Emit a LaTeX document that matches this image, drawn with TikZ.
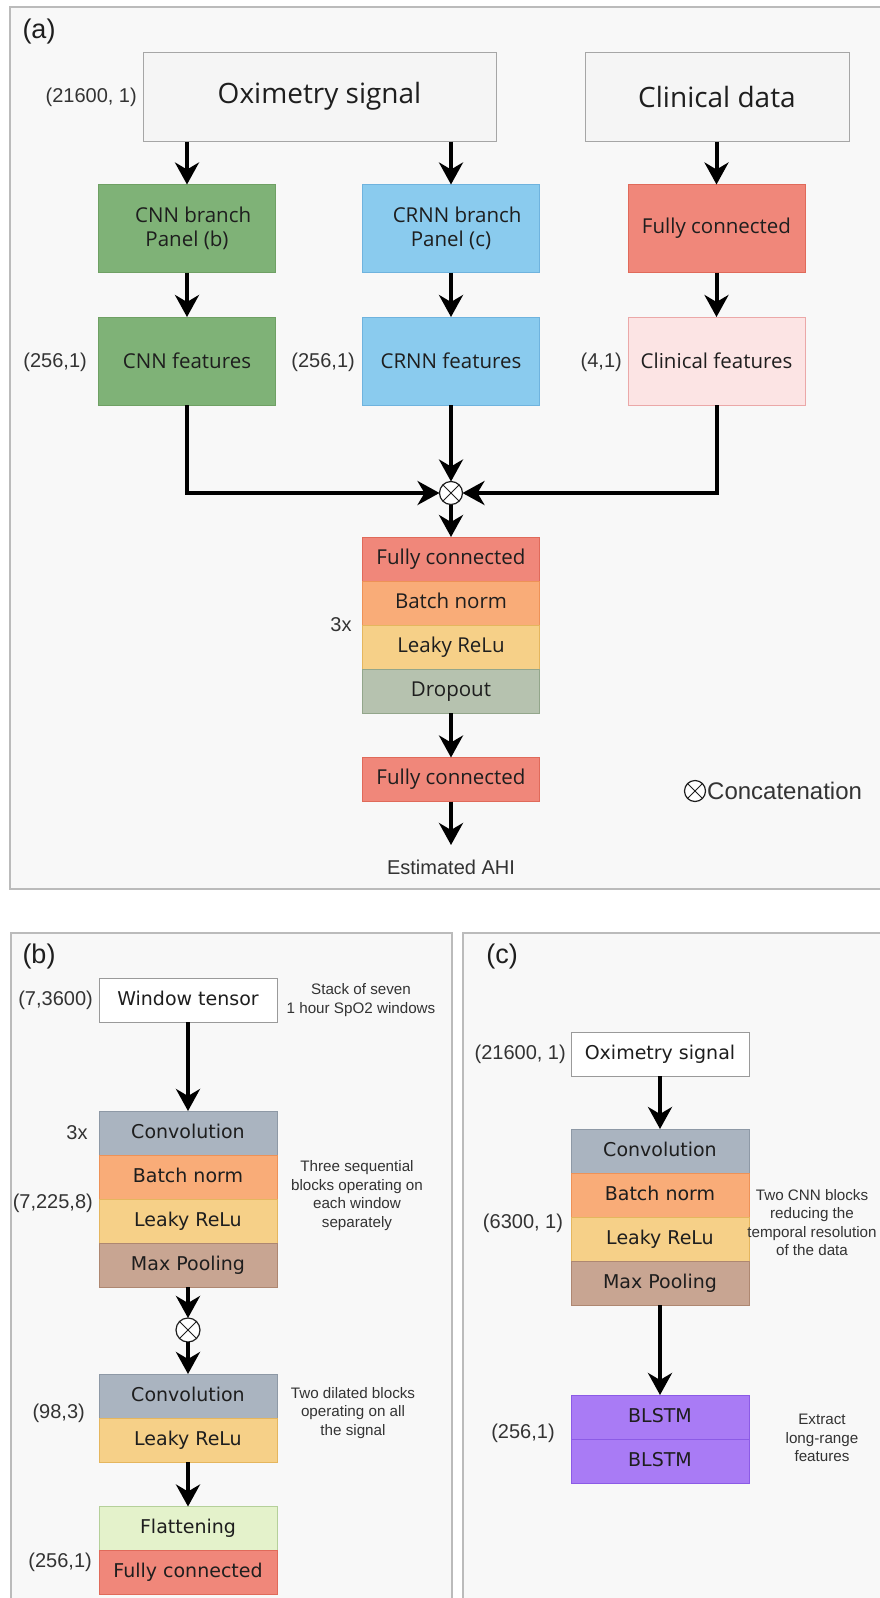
\documentclass[tikz,border=0pt]{standalone}
\usepackage{fontspec}
\setmainfont{Liberation Sans}
\newfontfamily\boxfont{Open Sans}
\newfontfamily\layerfont{DejaVu Sans}
\usetikzlibrary{arrows.meta,positioning}
\definecolor{panelbg}{HTML}{F8F8F8}
\definecolor{panelline}{HTML}{BBBBBB}
\definecolor{infill}{HTML}{F5F5F5}
\definecolor{inline}{HTML}{A6A6A6}
\definecolor{boxline}{HTML}{9A9A9A}
\definecolor{cnngreen}{HTML}{7FB277}
\definecolor{cnnline}{HTML}{6FA064}
\definecolor{crnnblue}{HTML}{8ACBEE}
\definecolor{crnnline}{HTML}{6FB3DE}
\definecolor{fcred}{HTML}{F0877A}
\definecolor{fcline}{HTML}{E06A5A}
\definecolor{clinpink}{HTML}{FCE4E4}
\definecolor{clinline}{HTML}{EBA8A8}
\definecolor{bnorange}{HTML}{F9AC78}
\definecolor{bnline}{HTML}{EE9257}
\definecolor{lryellow}{HTML}{F6D088}
\definecolor{lrline}{HTML}{E5B65E}
\definecolor{dpsage}{HTML}{B6C2AF}
\definecolor{dpline}{HTML}{93A68B}
\definecolor{convgray}{HTML}{AAB4C0}
\definecolor{convline}{HTML}{8E99A6}
\definecolor{poolbrown}{HTML}{C8A592}
\definecolor{poolline}{HTML}{AE8771}
\definecolor{flatgreen}{HTML}{E4F2CB}
\definecolor{flatline}{HTML}{B5D09A}
\definecolor{blstmviolet}{HTML}{A97BF5}
\definecolor{blstmline}{HTML}{8C5BE6}
\definecolor{inktext}{HTML}{1E1E1E}
\definecolor{labeltext}{HTML}{333333}

\tikzset{
  panel/.style={fill=panelbg,draw=panelline,line width=1.5pt},
  tag/.style={font=\fontsize{27}{30}\selectfont,text=inktext,inner sep=0},
  lbl/.style={font=\fontsize{20}{24}\selectfont,text=labeltext,inner sep=0},
  note/.style={font=\fontsize{15.2}{18.6}\selectfont,text=labeltext,align=center,inner sep=0},
  inbox/.style={draw=inline,fill=infill,line width=1pt,minimum height=89pt,inner sep=0,
    font=\boxfont\fontsize{28}{32}\selectfont,text=inktext},
  abox/.style 2 args={draw=#2,fill=#1,line width=1pt,minimum width=177pt,minimum height=88pt,
    inner sep=0,outer sep=0,align=center,font=\boxfont\fontsize{20.5}{24}\selectfont,text=inktext},
  stacka/.style 2 args={abox={#1}{#2},minimum height=44pt,text height=15pt,text depth=5pt},
  layer/.style 2 args={draw=#2,fill=#1,line width=1pt,minimum width=178pt,minimum height=44pt,
    inner sep=0,outer sep=0,text height=14pt,text depth=4pt,
    font=\layerfont\fontsize{19}{23}\selectfont,text=inktext},
  cross/.style={circle,draw=inktext,fill=white,line width=1.2pt,minimum size=#1,inner sep=0,outer sep=0,
    path picture={\draw[line width=1pt,inktext]
      (path picture bounding box.north east) -- (path picture bounding box.south west)
      (path picture bounding box.north west) -- (path picture bounding box.south east);}},
  arr/.style={line width=4pt,-{Stealth[length=22pt,width=24pt,inset=7pt]}},
}

\begin{document}
\begin{tikzpicture}[x=1pt,y=-1pt]
  \fill[white] (0,0) rectangle (879,1598);
  \useasboundingbox (0,0) rectangle (879,1598);

  % panels
  \draw[panel] (10,7) rectangle (897,889);
  \draw[panel] (11,933) rectangle (452,1612);
  \draw[panel] (463,933) rectangle (897,1612);

  % (a) overall model
  \node[tag] (taga) at (39,32) {(a)};
  \node[inbox,minimum width=353pt] (oxi) at (319.5,96.5) {Oximetry signal};
  \node[inbox,minimum width=264pt] (clin) at (717,96.5) {Clinical data};
  \node[lbl,anchor=east] (oxidim) at (137,97) {(21600, 1)};

  \node[abox={cnngreen}{cnnline}] (cnnbr) at (187,228.5) {\hspace{0.6em}CNN branch\\Panel (b)};
  \node[abox={crnnblue}{crnnline}] (crnnbr) at (451,228.5) {\hspace{0.6em}CRNN branch\\Panel (c)};
  \node[abox={fcred}{fcline}] (clinfc) at (716.5,228.5) {Fully connected};

  \node[abox={cnngreen}{cnnline}] (cnnfeat) at (187,361) {CNN features};
  \node[abox={crnnblue}{crnnline}] (crnnfeat) at (451,361) {CRNN features};
  \node[abox={clinpink}{clinline}] (clinfeat) at (716.5,361) {Clinical features};
  \node[lbl,anchor=east] (cnndim) at (87,362) {(256,1)};
  \node[lbl,anchor=east] (crnndim) at (355,362) {(256,1)};
  \node[lbl,anchor=east] (clindim) at (622,362) {(4,1)};

  \node[cross=23pt] (cat) at (451,493) {};
  \node[stacka={fcred}{fcline}] (fca) at (451,559) {Fully connected};
  \node[stacka={bnorange}{bnline},below=0pt of fca] (bna) {Batch norm};
  \node[stacka={lryellow}{lrline},below=0pt of bna] (lra) {Leaky ReLu};
  \node[stacka={dpsage}{dpline},below=0pt of lra] (dpa) {Dropout};
  \node[lbl] (repa) at (341,625) {3x};
  \node[stacka={fcred}{fcline}] (fcout) at (451,779.5) {Fully connected};
  \coordinate (ahiin) at (451,845);
  \node[lbl] (ahi) at (451,867) {Estimated AHI};

  \node[cross=21pt] (legx) at (695,791) {};
  \node[lbl,font=\fontsize{24}{28}\selectfont,anchor=west] (legtxt) at (707,791) {Concatenation};

  \draw[arr] (oxi.south -| cnnbr) -- (cnnbr.north);
  \draw[arr] (oxi.south -| crnnbr) -- (crnnbr.north);
  \draw[arr] (clin.south -| clinfc) -- (clinfc.north);
  \draw[arr] (cnnbr) -- (cnnfeat);
  \draw[arr] (crnnbr) -- (crnnfeat);
  \draw[arr] (clinfc) -- (clinfeat);
  \draw[arr] (cnnfeat.south) |- (cat.west);
  \draw[arr] (crnnfeat) -- (cat);
  \draw[arr] (clinfeat.south) |- (cat.east);
  \draw[arr] (cat) -- (fca);
  \draw[arr] (dpa) -- (fcout);
  \draw[arr] (fcout) -- (ahiin);

  % (b) CNN branch
  \node[tag] (tagb) at (39,957) {(b)};
  \node[layer={white}{boxline}] (wt) at (188,1000) {Window tensor};
  \node[lbl,anchor=east] (wtdim) at (93,1000) {(7,3600)};
  \node[note] (wtnote) at (361,1000) {Stack of seven\\1 hour SpO2 windows};

  \node[layer={convgray}{convline}] (convb) at (188,1133) {Convolution};
  \node[layer={bnorange}{bnline},below=0pt of convb] (bnb) {Batch norm};
  \node[layer={lryellow}{lrline},below=0pt of bnb] (lrb) {Leaky ReLu};
  \node[layer={poolbrown}{poolline},below=0pt of lrb] (mpb) {Max Pooling};
  \node[lbl] (repb) at (77,1133) {3x};
  \node[lbl,anchor=east] (convdim) at (93,1203) {(7,225,8)};
  \node[note] (convnote) at (357,1195.5) {Three sequential\\blocks operating on\\each window\\separately};

  \node[cross=24pt] (catb) at (188,1330) {};
  \node[layer={convgray}{convline}] (dconv) at (188,1396) {Convolution};
  \node[layer={lryellow}{lrline},below=0pt of dconv] (dlr) {Leaky ReLu};
  \node[lbl,anchor=east] (dildim) at (85,1413) {(98,3)};
  \node[note] (dilnote) at (353,1413) {Two dilated blocks\\operating on all\\the signal};

  \node[layer={flatgreen}{flatline}] (flat) at (188,1528.5) {Flattening};
  \node[layer={fcred}{fcline},below=0pt of flat] (fcb) {Fully connected};
  \node[lbl,anchor=east] (fcbdim) at (92,1562) {(256,1)};

  \draw[arr] (wt) -- (convb);
  \draw[arr] (mpb) -- (catb);
  \draw[arr] (catb) -- (dconv);
  \draw[arr] (dlr) -- (flat);

  % (c) CRNN branch
  \node[tag] (tagc) at (502,957) {(c)};
  \node[layer={white}{boxline}] (oxc) at (660,1054) {Oximetry signal};
  \node[lbl,anchor=east] (oxcdim) at (566,1054) {(21600, 1)};

  \node[layer={convgray}{convline}] (convc) at (660,1151) {Convolution};
  \node[layer={bnorange}{bnline},below=0pt of convc] (bnc) {Batch norm};
  \node[layer={lryellow}{lrline},below=0pt of bnc] (lrc) {Leaky ReLu};
  \node[layer={poolbrown}{poolline},below=0pt of lrc] (mpc) {Max Pooling};
  \node[lbl] (convcdim) at (523,1223) {(6300, 1)};
  \node[note] (convcnote) at (812,1222.5) {Two CNN blocks\\reducing the\\temporal resolution\\of the data};

  \node[layer={blstmviolet}{blstmline}] (blone) at (660,1417) {BLSTM};
  \node[layer={blstmviolet}{blstmline},below=0pt of blone] (bltwo) {BLSTM};
  \node[lbl] (bldim) at (523,1433) {(256,1)};
  \node[note] (blnote) at (822,1438) {Extract\\long-range\\features};

  \draw[arr] (oxc) -- (convc);
  \draw[arr] (mpc) -- (blone);
\end{tikzpicture}
\end{document}
